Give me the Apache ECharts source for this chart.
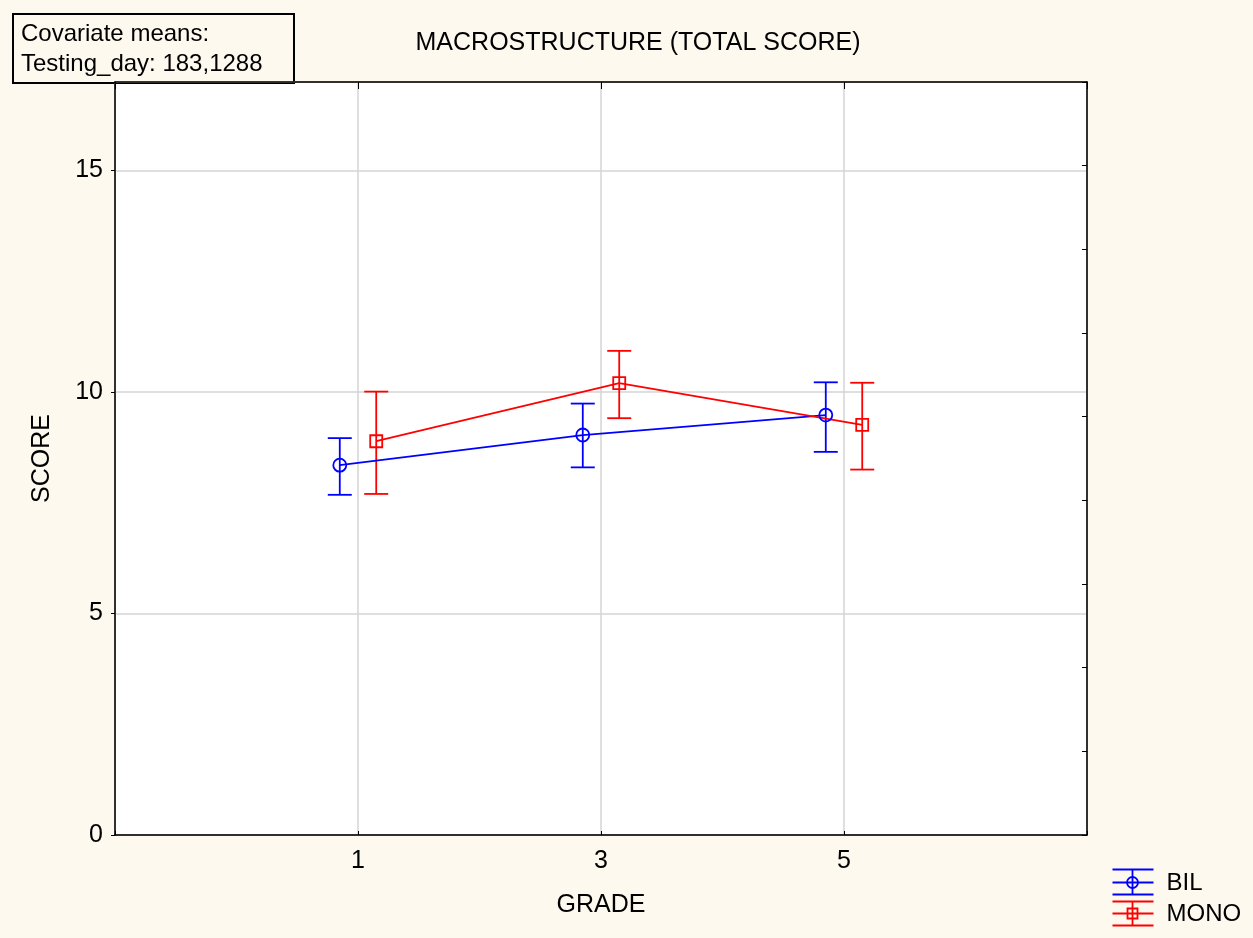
<!DOCTYPE html>
<html>
<head>
<meta charset="utf-8">
<script src="https://cdn.jsdelivr.net/npm/echarts@6/dist/echarts.min.js"></script>
<style>
html,body{margin:0;padding:0;background:#fdf9ef;}
#chart{width:1253px;height:938px;}
</style>
</head>
<body>
<div id="chart"></div>
<script>
// ---- data ----
const titleText = 'MACROSTRUCTURE (TOTAL SCORE)';
const covariateLines = ['Covariate means:', 'Testing_day: 183,1288'];
const xName = 'GRADE';
const yName = 'SCORE';
const grades = [1, 3, 5];
const seriesNames = ['BIL', 'MONO'];
const bilMean = [8.35, 9.03, 9.48];
const bilLow = [7.68, 8.30, 8.65];
const bilHigh = [8.96, 9.74, 10.22];
const monoMean = [8.89, 10.20, 9.26];
const monoLow = [7.70, 9.41, 8.25];
const monoHigh = [10.01, 10.93, 10.21];

// ---- style ----
const FONT = '"Liberation Sans", Arial, sans-serif';
const BLUE = '#0000ff', RED = '#ff0000';
const OFF = 0.15;
const LW = 1.8;

const chart = echarts.init(document.getElementById('chart'), null, {renderer: 'canvas'});

function errSeries(name, color, offset, low, high) {
  return {
    name: name,
    type: 'custom',
    z: 2,
    data: grades.map((g, i) => [g + offset, low[i], high[i]]),
    renderItem: function (params, api) {
      const x = api.value(0);
      const pHi = api.coord([x, api.value(2)]);
      const pLo = api.coord([x, api.value(1)]);
      const w = 12;
      const st = {stroke: color, lineWidth: LW};
      return {
        type: 'group',
        children: [
          {type: 'line', shape: {x1: pHi[0], y1: pHi[1], x2: pLo[0], y2: pLo[1]}, style: st},
          {type: 'line', shape: {x1: pHi[0] - w, y1: pHi[1], x2: pHi[0] + w, y2: pHi[1]}, style: st},
          {type: 'line', shape: {x1: pLo[0] - w, y1: pLo[1], x2: pLo[0] + w, y2: pLo[1]}, style: st}
        ]
      };
    }
  };
}

function lineSeries(name, color, offset, mean, symbol, size) {
  return {
    name: name,
    type: 'line',
    z: 3,
    data: grades.map((g, i) => [g + offset, mean[i]]),
    symbol: symbol,
    symbolSize: size,
    showAllSymbol: true,
    lineStyle: {color: color, width: LW},
    itemStyle: {color: 'rgba(0,0,0,0)', borderColor: color, borderWidth: LW},
    emphasis: {disabled: true},
    animation: false
  };
}

const labelStyle = {color: '#000', fontFamily: FONT, fontSize: 25};

const option = {
  backgroundColor: '#fdf9ef',
  animation: false,
  title: {
    text: titleText,
    left: 633, top: 26, textAlign: 'center',
    textStyle: {color: '#000', fontFamily: FONT, fontSize: 25, fontWeight: 'normal'}
  },
  grid: {
    left: 115, right: 166, top: 82, bottom: 103,
    show: true, backgroundColor: '#ffffff', borderColor: '#000', borderWidth: 1
  },
  xAxis: [{
    type: 'value', min: -1, max: 7, interval: 2, position: 'bottom',
    name: xName, nameLocation: 'middle', nameGap: 58,
    nameTextStyle: labelStyle,
    axisLine: {show: true, onZero: false, lineStyle: {color: '#000', width: 1.5}},
    axisTick: {show: true, inside: true, length: 4, lineStyle: {color: '#000'}},
    axisLabel: Object.assign({margin: 14, formatter: v => (v === 1 || v === 3 || v === 5) ? String(v) : ''}, labelStyle),
    splitLine: {show: true, lineStyle: {color: '#d4d4d4', width: 1.5}}
  }, {
    type: 'value', min: -1, max: 7, interval: 2, position: 'top',
    axisLine: {show: true, onZero: false, lineStyle: {color: '#000', width: 1.5}},
    axisTick: {show: true, inside: true, length: 7, lineStyle: {color: '#000'}},
    axisLabel: {show: false},
    splitLine: {show: false}
  }],
  yAxis: [{
    type: 'value', min: 0, max: 17, interval: 5, position: 'left',
    name: yName, nameLocation: 'middle', nameGap: 60, nameRotate: 90,
    nameTextStyle: labelStyle,
    axisLine: {show: true, onZero: false, lineStyle: {color: '#000', width: 1.5}},
    axisTick: {show: true, inside: false, length: 4, lineStyle: {color: '#000'}},
    axisLabel: Object.assign({margin: 12, formatter: v => (v % 5 === 0) ? String(v) : ''}, labelStyle),
    splitLine: {show: true, lineStyle: {color: '#d4d4d4', width: 1.5}}
  }, {
    type: 'value', min: 0, max: 17, interval: 17 / 9, position: 'right',
    axisLine: {show: true, onZero: false, lineStyle: {color: '#000', width: 1.5}},
    axisTick: {show: true, inside: true, length: 5, lineStyle: {color: '#000'}},
    axisLabel: {show: false},
    splitLine: {show: false}
  }],
  series: [
    errSeries(seriesNames[0], BLUE, -OFF, bilLow, bilHigh),
    errSeries(seriesNames[1], RED, OFF, monoLow, monoHigh),
    lineSeries(seriesNames[0], BLUE, -OFF, bilMean, 'circle', 13),
    lineSeries(seriesNames[1], RED, OFF, monoMean, 'rect', 12)
  ],
  graphic: [
    {
      type: 'group', left: 12, top: 13,
      children: [
        {type: 'rect', shape: {x: 0, y: 0, width: 281, height: 69}, style: {fill: '#fdf9ef', stroke: '#000', lineWidth: 2}},
        {type: 'text', x: 8, y: 20, style: {text: covariateLines[0], fill: '#000', font: '24px ' + FONT, verticalAlign: 'middle'}},
        {type: 'text', x: 8, y: 50, style: {text: covariateLines[1], fill: '#000', font: '24px ' + FONT, verticalAlign: 'middle'}}
      ]
    },
    // legend: BIL
    {
      type: 'group', left: 1110, top: 867,
      children: [
        {type: 'line', shape: {x1: 0, y1: 1, x2: 41, y2: 1}, style: {stroke: BLUE, lineWidth: LW}},
        {type: 'line', shape: {x1: 0, y1: 14, x2: 41, y2: 14}, style: {stroke: BLUE, lineWidth: LW}},
        {type: 'line', shape: {x1: 0, y1: 26, x2: 41, y2: 26}, style: {stroke: BLUE, lineWidth: LW}},
        {type: 'line', shape: {x1: 20, y1: 1, x2: 20, y2: 26}, style: {stroke: BLUE, lineWidth: LW}},
        {type: 'circle', shape: {cx: 20, cy: 14, r: 5.5}, style: {fill: 'none', stroke: BLUE, lineWidth: LW}},
        {type: 'text', x: 54, y: 15, style: {text: seriesNames[0], fill: '#000', font: '24px ' + FONT, verticalAlign: 'middle'}}
      ]
    },
    // legend: MONO
    {
      type: 'group', left: 1110, top: 899,
      children: [
        {type: 'line', shape: {x1: 0, y1: 1, x2: 41, y2: 1}, style: {stroke: RED, lineWidth: LW}},
        {type: 'line', shape: {x1: 0, y1: 13, x2: 41, y2: 13}, style: {stroke: RED, lineWidth: LW}},
        {type: 'line', shape: {x1: 0, y1: 25, x2: 41, y2: 25}, style: {stroke: RED, lineWidth: LW}},
        {type: 'line', shape: {x1: 20, y1: 1, x2: 20, y2: 25}, style: {stroke: RED, lineWidth: LW}},
        {type: 'rect', shape: {x: 15, y: 8, width: 10, height: 10}, style: {fill: 'none', stroke: RED, lineWidth: LW}},
        {type: 'text', x: 54, y: 14, style: {text: seriesNames[1], fill: '#000', font: '24px ' + FONT, verticalAlign: 'middle'}}
      ]
    }
  ]
};
chart.setOption(option);
</script>
</body>
</html>
